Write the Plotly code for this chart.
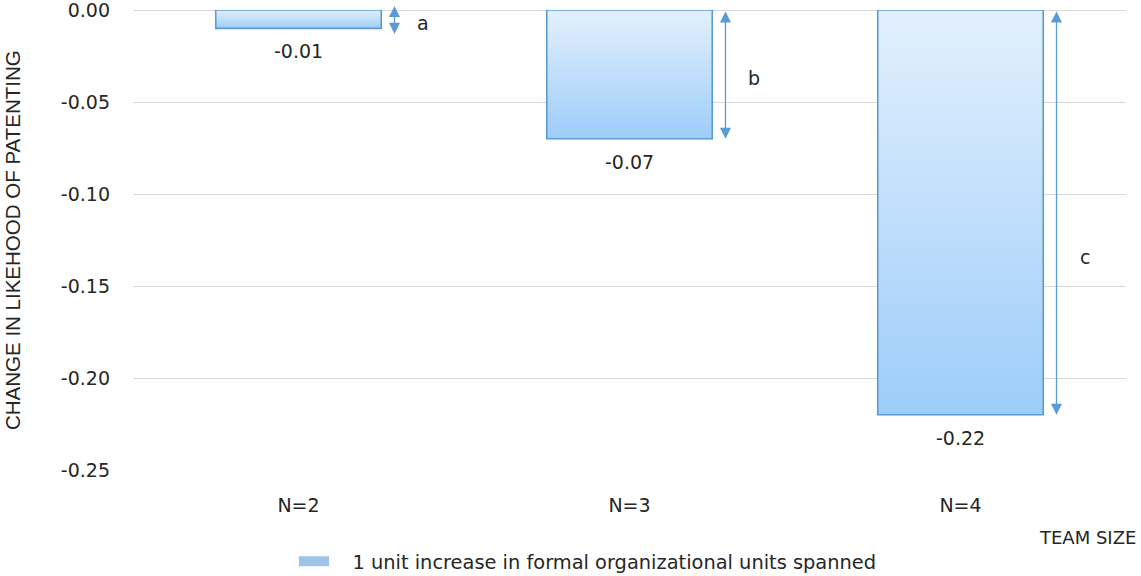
import plotly.graph_objects as go

# Team-size categories and the estimated marginal effect per category
team_sizes = ["N=2", "N=3", "N=4"]
effects = [-0.01, -0.07, -0.22]
bracket_labels = ["a", "b", "c"]
y_ticks = [0.00, -0.05, -0.10, -0.15, -0.20, -0.25]

FONT = "DejaVu Sans, Verdana, sans-serif"
TITLE_FONT = "Liberation Sans, Arial, sans-serif"
TEXT = "#262626"
EDGE = "#5b9bd5"
HALF_W = 0.25          # half bar width in category units
ARROW_DX = 0.29        # horizontal offset of the bracket arrows
LABEL_DX = 0.085       # bracket letter offset from its arrow
LABEL_FRAC = [0.72, 0.53, 0.61]   # bracket letter height as a share of the span
MIN_SPAN = 0.016       # shortest bracket span, so tiny effects keep both heads

fig = go.Figure()

# Bars drawn as filled outlines so each one can carry a vertical gradient
for i, (cat, v) in enumerate(zip(team_sizes, effects)):
    xs = [i - HALF_W, i + HALF_W, i + HALF_W, i - HALF_W, i - HALF_W]
    ys = [0, 0, v, v, 0]
    fig.add_trace(go.Scatter(
        x=xs, y=ys, mode="lines", fill="toself",
        fillgradient=dict(type="vertical",
                          colorscale=[[0, "#9dcdfa"], [1, "#e3f0fc"]]),
        line=dict(color=EDGE, width=1.6),
        hoverinfo="skip", showlegend=False,
    ))
    # value label under the bar
    fig.add_annotation(x=i, y=v, text=f"{v:.2f}", showarrow=False,
                       yanchor="top", yshift=-10,
                       font=dict(family=FONT, size=19, color=TEXT))
    # double-headed bracket arrow spanning zero to the bar value
    pad = max(0.0, (MIN_SPAN - abs(v)) / 2)
    fig.add_annotation(x=i + ARROW_DX, y=v - pad, ax=i + ARROW_DX, ay=pad,
                       xref="x", yref="y", axref="x", ayref="y",
                       text="", showarrow=True, arrowside="end+start",
                       arrowhead=2, arrowsize=1.7, arrowwidth=1.3,
                       arrowcolor=EDGE)
    fig.add_annotation(x=i + ARROW_DX + LABEL_DX, y=v * LABEL_FRAC[i],
                       text=bracket_labels[i], showarrow=False,
                       font=dict(family=FONT, size=19, color=TEXT))

# Legend entry
fig.add_trace(go.Scatter(
    x=[None], y=[None], mode="lines",
    line=dict(color="#9dc3e6", width=14),
    name="\u00a0\u00a0\u00a01 unit increase in formal organizational units spanned",
))

fig.update_layout(
    width=1141, height=576,
    margin=dict(l=133, r=15, t=10, b=106, autoexpand=False),
    paper_bgcolor="white", plot_bgcolor="white",
    font=dict(family=FONT, size=19, color=TEXT),
    showlegend=True,
    legend=dict(orientation="h", x=(294 - 133) / 993, xanchor="left",
                y=-72 / 459, yanchor="top",
                font=dict(family=FONT, size=19.4, color=TEXT),
                itemwidth=30),
    xaxis=dict(range=[-0.5, 2.5], tickmode="array",
               tickvals=list(range(len(team_sizes))), ticktext=team_sizes,
               showgrid=False, zeroline=False, showline=False, ticks="",
               ticklabelstandoff=22,
               tickfont=dict(family=FONT, size=19, color=TEXT)),
    yaxis=dict(range=[-0.25, 0.0], tickmode="array", tickvals=y_ticks,
               ticktext=[f"{t:.2f}" for t in y_ticks],
               showgrid=True, gridcolor="#d9d9d9", gridwidth=1,
               zeroline=True, zerolinecolor="#d9d9d9", zerolinewidth=1,
               showline=False, ticks="", ticklabelstandoff=22,
               ticklabeloverflow="allow",
               tickfont=dict(family=FONT, size=19, color=TEXT)),
)

# Axis titles
fig.add_annotation(xref="paper", yref="paper", x=-121 / 993, y=0.5,
                   text="CHANGE IN LIKEHOOD OF PATENTING", textangle=-90,
                   showarrow=False, xanchor="center", yanchor="middle",
                   font=dict(family=TITLE_FONT, size=20.5, color=TEXT))
fig.add_annotation(xref="paper", yref="paper", x=(1138 - 133) / 993,
                   y=-67 / 459, text="TEAM SIZE", showarrow=False,
                   xanchor="right", yanchor="middle",
                   font=dict(family=FONT, size=18, color=TEXT))

fig.write_html("out.html")
